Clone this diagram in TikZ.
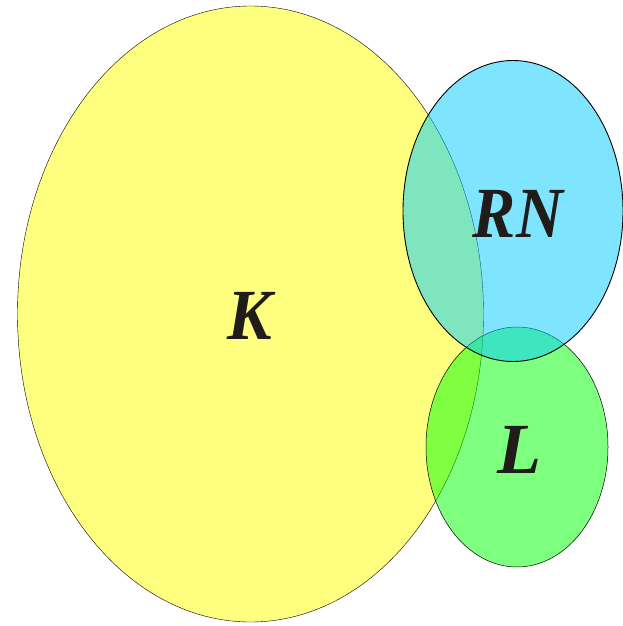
\documentclass[tikz,border=0pt]{standalone}
\usepackage{fontspec}
\setmainfont{Liberation Serif}
\usetikzlibrary{shapes.geometric}
\definecolor{kyellow}{RGB}{255,255,0}
\definecolor{rncyan}{RGB}{0,204,255}
\definecolor{lgreen}{RGB}{0,255,0}
\definecolor{inkdark}{RGB}{32,28,26}
\tikzset{
  setshape/.style={ellipse, inner sep=0pt, fill opacity=0.5, text opacity=1},
  setlabel/.style={font=\fontsize{72}{72}\selectfont\bfseries\itshape, text=inkdark},
}
\begin{document}
\begin{tikzpicture}[x=1pt,y=-1pt]
\useasboundingbox (0,0) rectangle (623,626);
\node[setshape, fill=kyellow, draw=black, line width=0.4pt,
  minimum width=466pt, minimum height=616pt] (K) at (250.5,314) {};
\node[setshape, fill=lgreen, draw=black, line width=0.5pt,
  minimum width=182pt, minimum height=240pt] (L) at (517,447) {};
\node[setshape, fill=rncyan, draw=black, line width=0.9pt,
  minimum width=220pt, minimum height=301pt] (RN) at (513,211) {};
\node[setlabel, xscale=0.93] (Kt) at (250,316) {K};
\node[setlabel, xscale=0.9] (RNt) at (518,214) {RN};
\node[setlabel] (Lt) at (519,450) {L};
\end{tikzpicture}
\end{document}
